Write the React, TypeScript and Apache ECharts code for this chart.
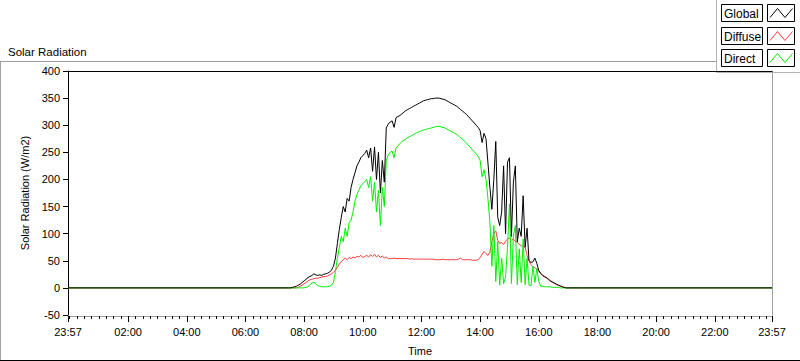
import React, { useEffect, useRef } from "react";
import * as echarts from "echarts";

// ---------- data ----------
const seriesNames = ["Global", "Diffuse", "Direct"];
const seriesColors = ["#000000", "#ff3a3a", "#00f000"];

const axisStartClock = "23:57"; // the time axis runs 23:57 -> 23:57
const sampleStartClock = "07:28"; // first sample of the daytime record
const sampleStepMin = 4;

const xTickLabels = ["23:57", "02:00", "04:00", "06:00", "08:00", "10:00", "12:00", "14:00", "16:00", "18:00", "20:00", "22:00", "23:57"];
const yTickMin = -50;
const yTickMax = 400;
const yTickStep = 50;

const globalValues = [
  0, 0, 1, 2, 3, 5, 7, 10, 13, 16,
  19, 21, 23, 26, 24, 23, 24, 23, 25, 26,
  27, 29, 33, 40, 55, 82, 108, 130, 150, 140,
  165, 160, 185, 200, 212, 225, 232, 240, 244, 248,
  254, 240, 258, 215, 260, 200, 250, 175, 235, 195,
  295, 302, 306, 308, 296, 314, 316, 318, 321, 324,
  327, 329, 331, 333, 335, 337, 339, 341, 343, 345,
  346, 347, 348, 349, 349, 350, 350, 350, 349, 348,
  347, 345, 343, 341, 339, 337, 335, 332, 329, 326,
  323, 320, 316, 312, 308, 304, 300, 296, 290, 268,
  285, 275, 230, 185, 145, 200, 270, 130, 115, 140,
  225, 100, 232, 240, 95, 195, 225, 85, 110, 95,
  170, 75, 110, 50, 47, 48, 55, 45, 32, 27,
  23, 21, 19, 16, 13, 11, 9, 7, 5, 4,
  2, 1, 0, 0, 0, 0, 0, 0, 0, 0, 0, 0,
];

const diffuseValues = [
  0, 0, 0, 0, 0, 1, 3, 5, 8, 10,
  13, 15, 16, 17, 18, 18, 19, 20, 21, 21,
  22, 24, 26, 29, 32, 38, 44, 48, 52, 55,
  52, 56, 54, 57, 55, 58, 57, 60, 56, 58,
  60, 57, 61, 58, 62, 57, 60, 56, 59, 55,
  57, 54, 54, 54, 55, 54, 54, 54, 54, 54,
  54, 54, 53, 54, 53, 53, 53, 53, 53, 53,
  53, 53, 53, 53, 53, 52, 52, 52, 52, 53,
  52, 52, 52, 52, 52, 52, 52, 53, 55, 52,
  52, 52, 52, 52, 51, 51, 51, 52, 56, 62,
  67, 63, 60, 66, 85, 100, 105, 88, 82, 84,
  80, 86, 90, 92, 88, 90, 86, 84, 80, 78,
  76, 75, 60, 50, 43, 39, 37, 35, 30, 26,
  22, 20, 18, 15, 12, 10, 8, 6, 5, 3,
  2, 1, 0, 0, 0, 0, 0, 0, 0, 0, 0, 0,
];

const directValues = [
  0, 0, 0, 0, 0, 0, 0, 0, 0, 1,
  2, 6, 9, 10, 8, 4, 3, 2, 2, 2,
  2, 3, 5, 10, 30, 55, 75, 95, 85, 110,
  95, 120, 125, 140, 160, 172, 180, 188, 192, 196,
  200, 185, 205, 160, 195, 140, 180, 115, 185, 150,
  235, 245, 250, 252, 240, 258, 262, 266, 270, 272,
  275, 277, 279, 281, 283, 285, 287, 288, 290, 291,
  292, 293, 294, 295, 296, 297, 298, 298, 297, 296,
  295, 293, 291, 289, 287, 285, 283, 280, 277, 274,
  271, 267, 263, 259, 255, 251, 247, 243, 235, 205,
  218, 200, 165, 120, 40, 115, 12, 85, 5, 55,
  8, 20, 75, 155, 8, 95, 115, 6, 72, 10,
  90, 6, 55, 5, 4, 40, 10, 36, 12, 3,
  3, 2, 2, 2, 2, 1, 1, 1, 1, 0,
  0, 0, 0, 0, 0, 0, 0, 0, 0, 0, 0, 0,
];

// ---------- helpers ----------
const clockMin = (s: string) => {
  const [h, m] = s.split(":").map(Number);
  return h * 60 + m;
};
const DAY = 1440;
const toAxis = (s: string) => (clockMin(s) - clockMin(axisStartClock) + DAY) % DAY;
const fmt = (v: number) => {
  const m = (Math.round(v) + clockMin(axisStartClock)) % DAY;
  const hh = Math.floor(m / 60);
  const mm = m % 60;
  return `${String(hh).padStart(2, "0")}:${String(mm).padStart(2, "0")}`;
};

const majorTicks = xTickLabels.map((s, i) => (i > 0 && toAxis(s) === 0 ? DAY : toAxis(s)));
const minorTicks: number[] = [];
for (let t = toAxis("00:00"); t < DAY; t += 15) minorTicks.push(t);

const buildSeries = (vals: number[]) => {
  const start = toAxis(sampleStartClock);
  const pts: number[][] = [[0, 0]];
  vals.forEach((v, i) => pts.push([start + i * sampleStepMin, v]));
  pts.push([DAY, 0]);
  return pts;
};

const FONT = "Liberation Sans, Arial, sans-serif";

export default function App() {
  const ref = useRef<HTMLDivElement>(null);
  useEffect(() => {
    document.body.style.margin = "0";
    if (!ref.current) return;
    const chart = echarts.init(ref.current, undefined, { renderer: "svg" });

    const legendEls: any[] = [
      { type: "rect", shape: { x: 717, y: 0, width: 83, height: 72 }, style: { fill: "#ffffff", stroke: "none" } },
      { type: "line", shape: { x1: 716.5, y1: 0, x2: 716.5, y2: 72.5 }, style: { stroke: "#b4b4b4", lineWidth: 1 } },
      { type: "line", shape: { x1: 716.5, y1: 72.5, x2: 800, y2: 72.5 }, style: { stroke: "#b4b4b4", lineWidth: 1 } },
    ];
    seriesNames.forEach((name, k) => {
      const y0 = 4.5 + Math.round(k * 22.7);
      legendEls.push(
        { type: "rect", shape: { x: 721.5, y: y0, width: 41, height: 17 }, style: { fill: "#ffffff", stroke: "#000", lineWidth: 1 } },
        { type: "text", x: 724, y: y0 + 9, style: { text: name, fontSize: 12, fontFamily: FONT, fill: "#000", verticalAlign: "middle" } },
        { type: "rect", shape: { x: 767.5, y: y0, width: 27, height: 17 }, style: { fill: "#ffffff", stroke: "#000", lineWidth: 1 } },
        {
          type: "polyline",
          shape: { points: [[770, y0 + 13], [777.5, y0 + 4], [785, y0 + 13], [792.5, y0 + 4]] },
          style: { stroke: seriesColors[k], lineWidth: 1, fill: "none" },
        }
      );
    });

    const option: any = {
      animation: false,
      backgroundColor: "#ffffff",
      title: {
        text: "Solar Radiation",
        left: 3,
        top: 41,
        textStyle: { fontSize: 11.5, fontWeight: "normal", color: "#000", fontFamily: FONT },
      },
      grid: { left: 68, right: 28, top: 71, bottom: 40, containLabel: false },
      xAxis: [
        {
          type: "value",
          min: 0,
          max: DAY,
          position: "bottom",
          offset: 1,
          name: "Time",
          nameLocation: "middle",
          nameGap: 29,
          nameTextStyle: { fontSize: 11, color: "#000", fontFamily: FONT },
          axisLine: { show: true, onZero: false, lineStyle: { color: "#a0a0a0", width: 1 } },
          axisTick: { show: true, customValues: majorTicks, length: 6, lineStyle: { color: "#000" } },
          axisLabel: { customValues: majorTicks, formatter: (v: number) => fmt(v), fontSize: 11, color: "#000", fontFamily: FONT, margin: 10 },
          splitLine: { show: false },
        },
        {
          type: "value",
          min: 0,
          max: DAY,
          position: "bottom",
          offset: 1,
          axisLine: { show: false, onZero: false },
          axisTick: { show: true, customValues: minorTicks, length: 3, lineStyle: { color: "#000" } },
          axisLabel: { show: false },
          splitLine: { show: false },
        },
        {
          type: "value",
          min: 0,
          max: DAY,
          position: "top",
          axisLine: { show: true, onZero: false, lineStyle: { color: "#000", width: 1 } },
          axisTick: { show: false },
          axisLabel: { show: false },
          splitLine: { show: false },
        },
      ],
      yAxis: [
        {
          type: "value",
          min: yTickMin,
          max: yTickMax,
          interval: yTickStep,
          position: "left",
          name: "Solar Radiation (W/m2)",
          nameLocation: "middle",
          nameGap: 33,
          nameTextStyle: { fontSize: 11, color: "#000", fontFamily: FONT },
          axisLine: { show: true, onZero: false, lineStyle: { color: "#000", width: 1 } },
          axisTick: { show: true, length: 5, lineStyle: { color: "#000" } },
          axisLabel: { fontSize: 11, color: "#000", fontFamily: FONT, margin: 8 },
          splitLine: { show: false },
        },
        {
          type: "value",
          min: yTickMin,
          max: yTickMax,
          interval: yTickStep,
          position: "right",
          axisLine: { show: true, onZero: false, lineStyle: { color: "#a0a0a0", width: 1 } },
          axisTick: { show: false },
          axisLabel: { show: false },
          splitLine: { show: false },
        },
      ],
      series: [
        { name: seriesNames[1], values: diffuseValues, z: 2 },
        { name: seriesNames[2], values: directValues, z: 3 },
        { name: seriesNames[0], values: globalValues, z: 4 },
      ].map((s) => ({
        type: "line",
        name: s.name,
        xAxisIndex: 0,
        yAxisIndex: 0,
        data: buildSeries(s.values),
        showSymbol: false,
        symbol: "none",
        z: s.z,
        lineStyle: { color: seriesColors[seriesNames.indexOf(s.name)], width: 1 },
        itemStyle: { color: seriesColors[seriesNames.indexOf(s.name)] },
      })),
      graphic: [
        { type: "line", z: 50, shape: { x1: 0, y1: 61.5, x2: 717, y2: 61.5 }, style: { stroke: "#a0a0a0", lineWidth: 1 } },
        { type: "line", z: 50, shape: { x1: 0.5, y1: 61.5, x2: 0.5, y2: 361 }, style: { stroke: "#a0a0a0", lineWidth: 1 } },
        { type: "line", z: 50, shape: { x1: 0, y1: 360.5, x2: 800, y2: 360.5 }, style: { stroke: "#000", lineWidth: 1 } },
        { type: "group", z: 100, children: legendEls },
      ],
    };
    chart.setOption(option);
    return () => chart.dispose();
  }, []);
  return <div ref={ref} style={{ width: 800, height: 361, position: "absolute", left: 0, top: 0 }} />;
}
